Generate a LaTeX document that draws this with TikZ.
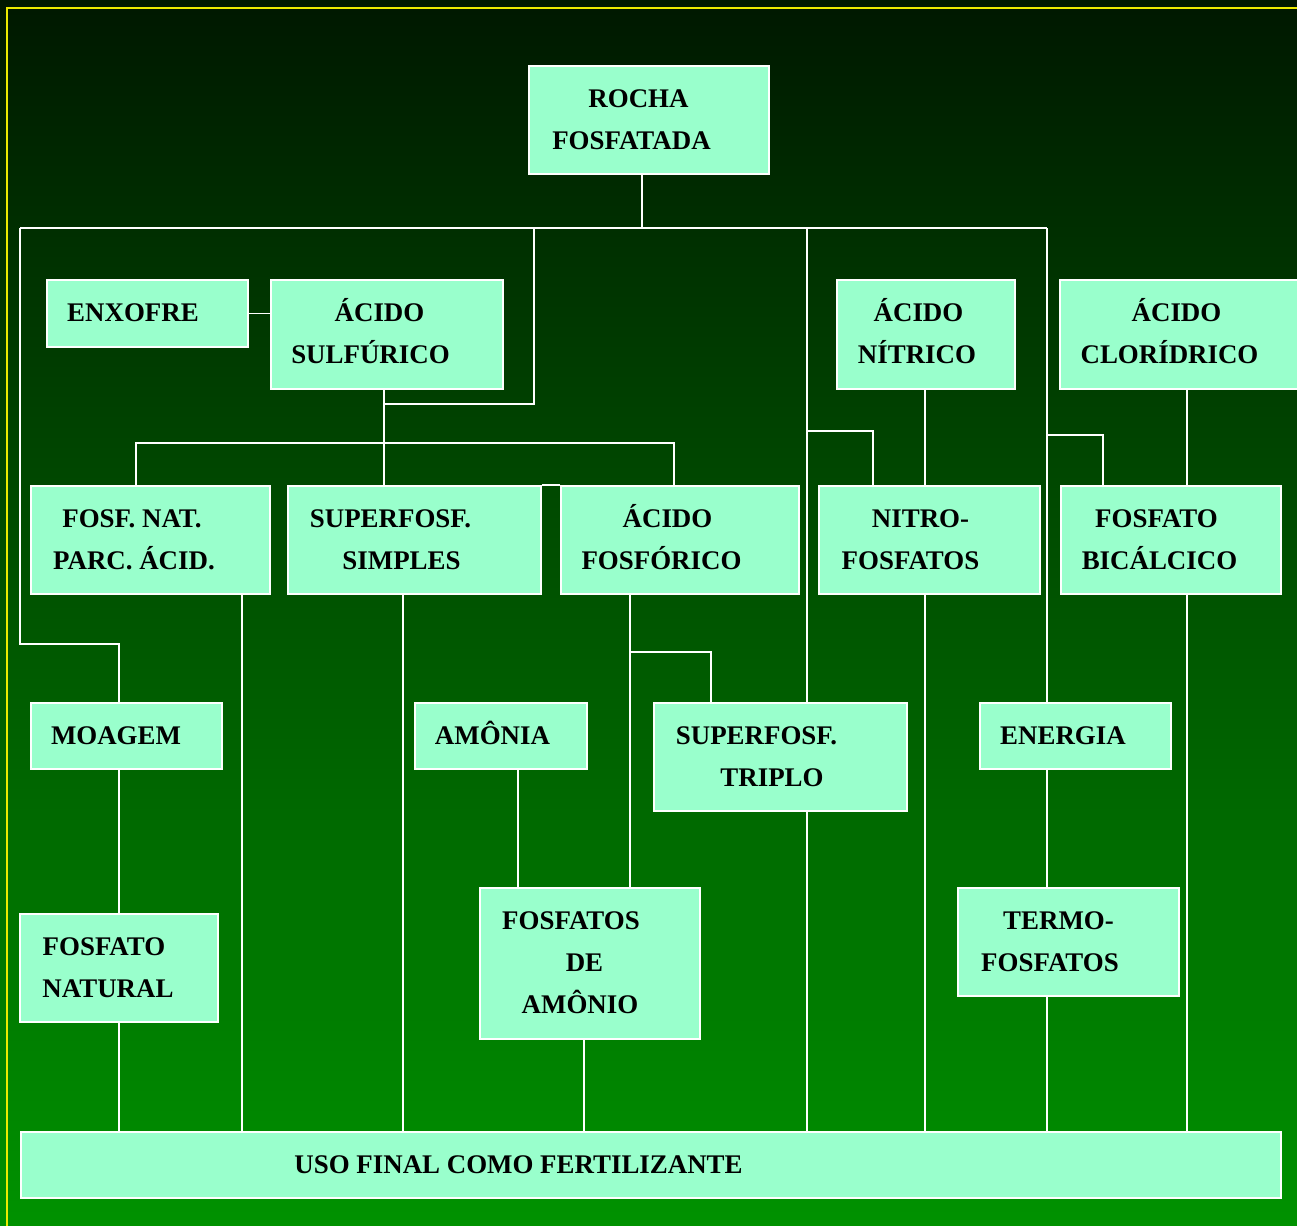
\documentclass[tikz,border=0pt]{standalone}
\usepackage{fontspec}
\setmainfont{Liberation Serif}
\definecolor{boxfill}{HTML}{99FFCC}
\definecolor{bgtop}{RGB}{0,24,0}
\definecolor{bgmid}{RGB}{0,98,0}
\definecolor{bgbot}{RGB}{0,146,0}
\definecolor{frameyel}{RGB}{235,235,0}
\newcommand\rowtxt[2]{\hbox{\strut#2\kern#1pt}}
\begin{document}
\begin{tikzpicture}[x=0.5pt,y=-0.5pt,
  box/.style={draw=white, line width=0.8pt, fill=boxfill, inner sep=0pt,
    align=center, text=black, font=\fontsize{13.45}{21}\selectfont\bfseries},
  conn/.style={draw=white, line width=0.8pt}]
\useasboundingbox (0,0) rectangle (1297,1226);
\shade[top color=bgtop, middle color=bgmid, bottom color=bgbot] (0,0) rectangle (1297,1226);
\draw[frameyel, line width=0.75pt] (7,1232) -- (7,8) -- (1305,8);

% boxes
\node[box, minimum width=120pt, minimum height=54pt] (rocha) at (649,120)
  {\rowtxt{10.5}{ROCHA}\\\rowtxt{17.5}{FOSFATADA}};
\node[box, minimum width=100.5pt, minimum height=33.5pt] (enxofre) at (147.5,313.5)
  {\rowtxt{14.5}{ENXOFRE}};
\node[box, minimum width=116pt, minimum height=54.5pt] (acsulf) at (387,334.5)
  {\rowtxt{7.5}{ÁCIDO}\\\rowtxt{16.5}{SULFÚRICO}};
\node[box, minimum width=89pt, minimum height=54.5pt] (acnitr) at (926,334.5)
  {\rowtxt{7.5}{ÁCIDO}\\\rowtxt{9}{NÍTRICO}};
\node[box, minimum width=122.5pt, minimum height=54.5pt] (acclor) at (1182.5,334.5)
  {\rowtxt{6}{ÁCIDO}\\\rowtxt{13}{CLORÍDRICO}};
\node[box, minimum width=119.5pt, minimum height=54pt] (fosfnat) at (150.5,540)
  {\rowtxt{18.5}{FOSF. NAT.}\\\rowtxt{16.5}{PARC. ÁCID.}};
\node[box, minimum width=126.5pt, minimum height=54pt] (supsimp) at (414.5,540)
  {\rowtxt{24}{SUPERFOSF.}\\\rowtxt{13}{SIMPLES}};
\node[box, minimum width=119pt, minimum height=54pt] (acfosf) at (680,540)
  {\rowtxt{12.5}{ÁCIDO}\\\rowtxt{18.5}{FOSFÓRICO}};
\node[box, minimum width=110.5pt, minimum height=54pt] (nitro) at (929.5,540)
  {\rowtxt{9}{NITRO-}\\\rowtxt{19}{FOSFATOS}};
\node[box, minimum width=110pt, minimum height=54pt] (bical) at (1171,540)
  {\rowtxt{14.5}{FOSFATO}\\\rowtxt{11.5}{BICÁLCICO}};
\node[box, minimum width=95.5pt, minimum height=33pt] (moagem) at (126.5,736)
  {\rowtxt{10.5}{MOAGEM}};
\node[box, minimum width=86pt, minimum height=33pt] (amonia) at (501,736)
  {\rowtxt{8.5}{AMÔNIA}};
\node[box, minimum width=126.5pt, minimum height=54pt] (suptrip) at (780.5,757)
  {\rowtxt{24}{SUPERFOSF.}\\\rowtxt{8.5}{TRIPLO}};
\node[box, minimum width=95.5pt, minimum height=33pt] (energia) at (1075.5,736)
  {\rowtxt{12.5}{ENERGIA}};
\node[box, minimum width=99pt, minimum height=54pt] (fnatural) at (119,968)
  {\rowtxt{15}{FOSFATO}\\\rowtxt{11}{NATURAL}};
\node[box, minimum width=110pt, minimum height=75.5pt] (fosfamon) at (590,963.5)
  {\rowtxt{19}{FOSFATOS}\\\rowtxt{5.5}{DE}\\\rowtxt{10}{AMÔNIO}};
\node[box, minimum width=110.5pt, minimum height=54pt] (termo) at (1068.5,942)
  {\rowtxt{10}{TERMO-}\\\rowtxt{18.5}{FOSFATOS}};
\node[box, minimum width=630pt, minimum height=33pt] (uso) at (651,1165)
  {\rowtxt{132.5}{USO FINAL COMO FERTILIZANTE}};

% guide coordinates
\coordinate (busL) at (20,228);
\coordinate (busR) at (1047,228);
\foreach \xx in {119,136,242,384,403,518,534,584,630,642,674,711,807,873,925,1047,1103,1187}
  {\coordinate (v\xx) at (\xx,0);}

% connectors
\draw[conn] (v642 |- rocha.south) -- (v642 |- busL);
\draw[conn] (busL) -- (busR);
\draw[conn] (busL) |- (119,644) -- (v119 |- moagem.north);
\draw[conn] (v534 |- busL) |- (384,404);
\draw[conn] (v384 |- acsulf.south) -- (v384 |- supsimp.north);
\draw[conn] (enxofre.east) -- (acsulf.west |- enxofre.east);
\draw[conn] (v136 |- fosfnat.north) |- (674,443) -- (v674 |- acfosf.north);
\draw[conn] (supsimp.north east) -- (acfosf.north west);
\draw[conn] (v807 |- busL) -- (v807 |- suptrip.north);
\draw[conn] (807,431) -| (v873 |- nitro.north);
\draw[conn] (v925 |- acnitr.south) -- (v925 |- nitro.north);
\draw[conn] (busR) -- (v1047 |- energia.north);
\draw[conn] (1047,435) -| (v1103 |- bical.north);
\draw[conn] (v1187 |- acclor.south) -- (v1187 |- bical.north);
\draw[conn] (v242 |- fosfnat.south) -- (v242 |- uso.north);
\draw[conn] (v403 |- supsimp.south) -- (v403 |- uso.north);
\draw[conn] (v630 |- acfosf.south) -- (v630 |- fosfamon.north);
\draw[conn] (630,652) -| (v711 |- suptrip.north);
\draw[conn] (v925 |- nitro.south) -- (v925 |- uso.north);
\draw[conn] (v1187 |- bical.south) -- (v1187 |- uso.north);
\draw[conn] (v119 |- moagem.south) -- (v119 |- fnatural.north);
\draw[conn] (v119 |- fnatural.south) -- (v119 |- uso.north);
\draw[conn] (v518 |- amonia.south) -- (v518 |- fosfamon.north);
\draw[conn] (v584 |- fosfamon.south) -- (v584 |- uso.north);
\draw[conn] (v807 |- suptrip.south) -- (v807 |- uso.north);
\draw[conn] (v1047 |- energia.south) -- (v1047 |- termo.north);
\draw[conn] (v1047 |- termo.south) -- (v1047 |- uso.north);
\end{tikzpicture}
\end{document}
